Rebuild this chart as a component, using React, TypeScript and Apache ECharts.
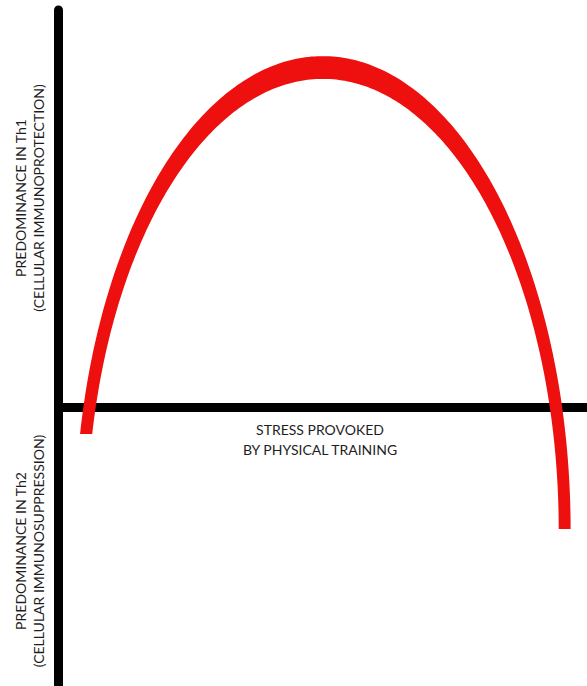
import React, { useEffect, useRef } from "react";
import * as echarts from "echarts";

// Axis extents (stress: 0..10, predominance: -7..10; 0 = Th1/Th2 balance)
const xRange: [number, number] = [0, 10];
const yRange: [number, number] = [-7, 10];

// The red curve is an elliptical block arc (data units)
const arcCenter: [number, number] = [5.0, -3.08]; // [stress, predominance]
const arcRadii: [number, number] = [4.69, 11.92]; // outer semi-axes [stress, predominance]
const arcInnerRatio = 0.952; // inner ellipse / outer ellipse
const arcEnds: [number, number] = [-0.66, -3.05]; // predominance level of left end, right end

const upperLabel = ["PREDOMINANCE IN Th1", "(CELLULAR IMMUNOPROTECTION)"];
const lowerLabel = ["PREDOMINANCE IN Th2", "(CELLULAR IMMUNOSUPPRESSION)"];
const xLabel = ["STRESS PROVOKED", "BY PHYSICAL TRAINING"];

const RED = "#ee0f0f";
const FONT = "Lato";
const TEXT_COLOR = "#1e1e1e";
const SAMPLES = 240;

function arcPoints(scale: number, fromLeft: boolean): number[][] {
  const [cx, cy] = arcCenter;
  const ax = arcRadii[0] * scale;
  const by = arcRadii[1] * scale;
  const tL = Math.PI - Math.asin(Math.max(-1, Math.min(1, (arcEnds[0] - cy) / by)));
  const tR = Math.asin(Math.max(-1, Math.min(1, (arcEnds[1] - cy) / by)));
  const pts: number[][] = [];
  for (let i = 0; i <= SAMPLES; i++) {
    const f = i / SAMPLES;
    const t = fromLeft ? tL + (tR - tL) * f : tR + (tL - tR) * f;
    pts.push([cx + ax * Math.cos(t), cy + by * Math.sin(t)]);
  }
  return pts;
}

export default function App() {
  const ref = useRef<HTMLDivElement>(null);
  useEffect(() => {
    if (!ref.current) return;
    const chart = echarts.init(ref.current, undefined, { renderer: "svg" });
    chart.setOption({
      animation: false,
      backgroundColor: "#ffffff",
      grid: { left: 58.5, right: 0, top: 10, bottom: 0, containLabel: false },
      xAxis: {
        type: "value",
        min: xRange[0],
        max: xRange[1],
        axisLine: { show: true, onZero: true, lineStyle: { color: "#000", width: 9 } },
        axisTick: { show: false },
        axisLabel: { show: false },
        splitLine: { show: false },
      },
      yAxis: {
        type: "value",
        min: yRange[0],
        max: yRange[1],
        axisLine: { show: true, onZero: true, lineStyle: { color: "#000", width: 9 } },
        axisTick: { show: false },
        axisLabel: { show: false },
        splitLine: { show: false },
      },
      series: [
        {
          type: "custom",
          coordinateSystem: "cartesian2d",
          clip: false,
          data: [arcCenter],
          renderItem: (params: any, api: any) => {
            const outer = arcPoints(1, true).map((p) => api.coord(p));
            const inner = arcPoints(arcInnerRatio, false).map((p) => api.coord(p));
            const ring = outer.concat(inner);
            const d =
              ring
                .map((p: number[], i: number) => `${i === 0 ? "M" : "L"}${p[0].toFixed(2)},${p[1].toFixed(2)}`)
                .join(" ") + " Z";
            return {
              type: "path",
              shape: { pathData: d },
              style: { fill: RED, stroke: "none" },
            };
          },
        },
      ],
      graphic: [
        {
          type: "text",
          x: 29,
          y: 198,
          rotation: Math.PI / 2,
          style: {
            text: upperLabel.join("\n"),
            align: "center",
            verticalAlign: "middle",
            fontFamily: FONT,
            fontSize: 14,
            lineHeight: 18,
            fill: TEXT_COLOR,
          },
        },
        {
          type: "text",
          x: 29,
          y: 551,
          rotation: Math.PI / 2,
          style: {
            text: lowerLabel.join("\n"),
            align: "center",
            verticalAlign: "middle",
            fontFamily: FONT,
            fontSize: 14,
            lineHeight: 18,
            fill: TEXT_COLOR,
          },
        },
        {
          type: "text",
          x: 320,
          y: 439,
          style: {
            text: xLabel.join("\n"),
            align: "center",
            verticalAlign: "middle",
            fontFamily: FONT,
            fontSize: 14,
            lineHeight: 20,
            fill: TEXT_COLOR,
          },
        },
      ],
    });
    return () => chart.dispose();
  }, []);
  return (
    <div
      ref={ref}
      style={{ position: "fixed", left: 0, top: 0, width: 587, height: 686, background: "#fff" }}
    />
  );
}
